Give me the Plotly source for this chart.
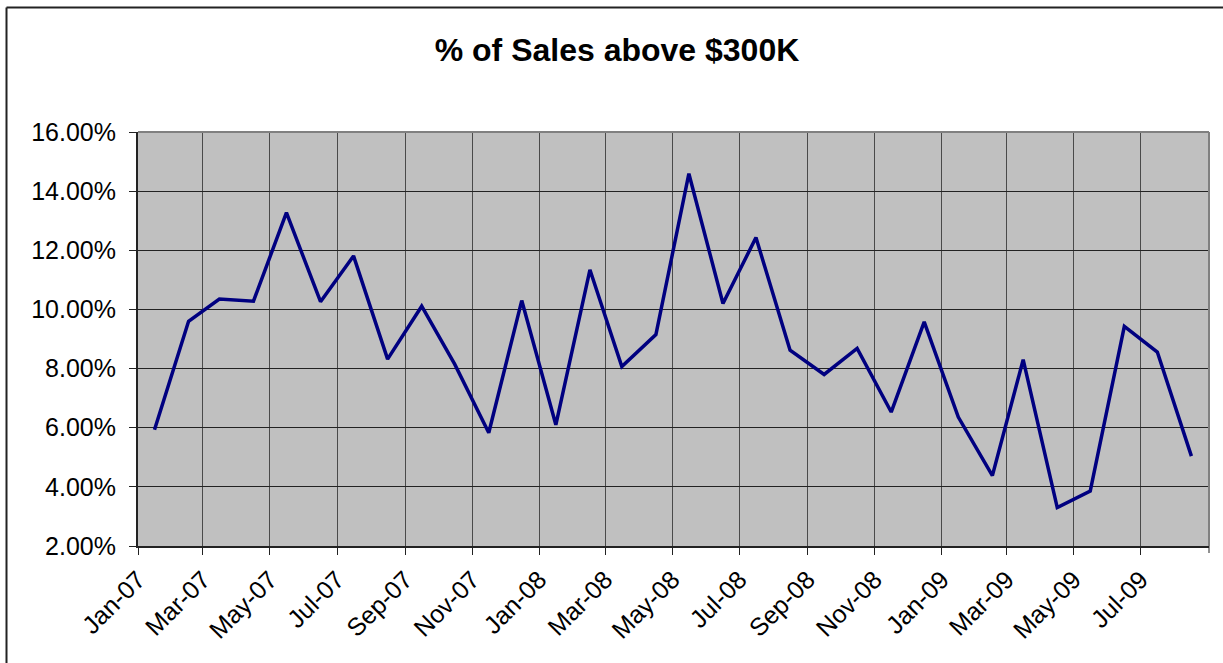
import plotly.graph_objects as go

months = [
    "2007-01-16", "2007-02-16", "2007-03-16", "2007-04-16", "2007-05-16", "2007-06-16",
    "2007-07-16", "2007-08-16", "2007-09-16", "2007-10-16", "2007-11-16", "2007-12-16",
    "2008-01-16", "2008-02-16", "2008-03-16", "2008-04-16", "2008-05-16", "2008-06-16",
    "2008-07-16", "2008-08-16", "2008-09-16", "2008-10-16", "2008-11-16", "2008-12-16",
    "2009-01-16", "2009-02-16", "2009-03-16", "2009-04-16", "2009-05-16", "2009-06-16",
    "2009-07-16", "2009-08-16",
]
pct_above_300k = [
    5.93, 9.60, 10.35, 10.28, 13.27, 10.26, 11.81, 8.32, 10.11, 8.15, 5.83, 10.30,
    6.10, 11.34, 8.07, 9.15, 14.59, 10.20, 12.43, 8.62, 7.80, 8.68, 6.53, 9.58,
    6.36, 4.38, 8.30, 3.30, 3.86, 9.43, 8.56, 5.04,
]
x_tick_dates = [
    "2007-01-01", "2007-03-01", "2007-05-01", "2007-07-01", "2007-09-01", "2007-11-01",
    "2008-01-01", "2008-03-01", "2008-05-01", "2008-07-01", "2008-09-01", "2008-11-01",
    "2009-01-01", "2009-03-01", "2009-05-01", "2009-07-01",
]
x_range = ["2007-01-01", "2009-09-01"]
title_text = "% of Sales above $300K"
y_ticks = [0.02, 0.04, 0.06, 0.08, 0.10, 0.12, 0.14, 0.16]

W, H = 1223, 663
L, R, T, B = 138, 14, 132, 117
pw, ph = W - L - R, H - T - B

fig = go.Figure()
fig.add_trace(go.Scatter(
    x=months, y=[v / 100 for v in pct_above_300k], mode="lines",
    line=dict(color="#000080", width=3.5), hoverinfo="x+y",
))

font_family = "Arial, Liberation Sans, sans-serif"

fig.update_layout(
    width=W, height=H,
    margin=dict(l=L, r=R, t=T, b=B),
    paper_bgcolor="white",
    plot_bgcolor="#C0C0C0",
    showlegend=False,
    font=dict(family=font_family, color="black"),
    title=dict(
        text="<b>" + title_text + "</b>",
        x=617 / W, xanchor="center", xref="container",
        y=1 - 50 / H, yanchor="middle", yref="container",
        font=dict(size=32, family=font_family, color="black"),
    ),
    xaxis=dict(
        type="date",
        range=x_range,
        tickvals=x_tick_dates, tickformat="%b-%y",
        tickangle=-45,
        showgrid=True, gridcolor="#4a4a4a", gridwidth=1,
        ticks="outside", ticklen=7, tickcolor="#222", tickwidth=1,
        showline=True, linecolor="#222", linewidth=2,
        tickfont=dict(size=25, family=font_family, color="black"),
        zeroline=False,
    ),
    yaxis=dict(
        range=[0.02, 0.16],
        tickvals=y_ticks, tickformat=".2%",
        showgrid=True, gridcolor="#222", gridwidth=1,
        ticks="outside", ticklen=7, tickcolor="#222", tickwidth=1,
        showline=True, linecolor="#222", linewidth=2,
        tickfont=dict(size=25, family=font_family, color="black"),
        ticklabelstandoff=8,
        zeroline=False,
    ),
    shapes=[
        # plot-area top and right gray borders
        dict(type="line", xref="paper", yref="paper", x0=0, x1=1, y0=1, y1=1,
             line=dict(color="#808080", width=2)),
        dict(type="line", xref="paper", yref="paper", x0=1, x1=1, y0=0, y1=1,
             line=dict(color="#808080", width=2)),
        # tick mark at right end of the x axis
        dict(type="line", xref="paper", yref="paper", x0=1, x1=1, y0=0, y1=-7 / ph,
             line=dict(color="#222", width=1)),
        # outer chart frame (top and left edges)
        dict(type="line", xref="paper", yref="paper",
             x0=(6.5 - L) / pw, x1=(W + 5 - L) / pw,
             y0=1 + (T - 7.5) / ph, y1=1 + (T - 7.5) / ph,
             line=dict(color="#222", width=2)),
        dict(type="line", xref="paper", yref="paper",
             x0=(6.5 - L) / pw, x1=(6.5 - L) / pw,
             y0=1 + (T - 7.5) / ph, y1=-(B + 5) / ph,
             line=dict(color="#222", width=2)),
    ],
)

fig.write_html("out.html", config={"displayModeBar": False},
               post_script="document.body.style.margin='0';")
